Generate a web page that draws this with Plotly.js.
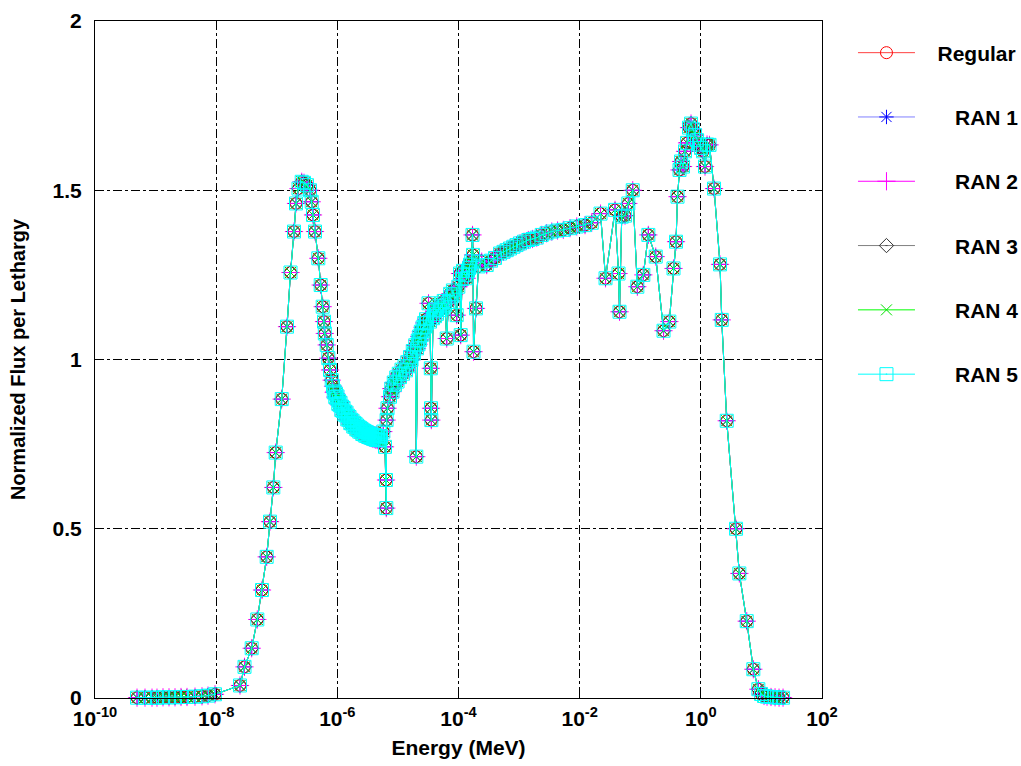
<!DOCTYPE html>
<html>
<head>
<meta charset="utf-8">
<script src="https://cdn.plot.ly/plotly-3.0.1.min.js"></script>
<style>html,body{margin:0;padding:0;background:#fff}</style>
</head>
<body>
<div id="chart" style="width:1021px;height:766px"></div>
<script>
// Group energies (MeV), lowest to highest
const energy = [
  4.94e-10, 6.69e-10, 8.73e-10, 1.055e-9, 1.326e-9, 1.666e-9, 2.092e-9, 2.628e-9, 3.301e-9, 4.475e-9,
  5.838e-9, 7.332e-9, 9.568e-9,
  2.475e-8, 2.936e-8, 3.860e-8, 4.777e-8, 5.711e-8, 6.826e-8, 7.742e-8, 8.774e-8, 9.612e-8, 1.208e-7,
  1.477e-7, 1.687e-7, 1.927e-7, 2.079e-7, 2.287e-7, 2.582e-7, 2.818e-7, 3.158e-7, 3.540e-7, 3.776e-7,
  3.968e-7, 4.281e-7, 4.853e-7, 5.316e-7, 5.737e-7, 6.028e-7, 6.214e-7, 6.679e-7, 7.097e-7, 7.572e-7,
  8.076e-7,
  // fine groups through the 1/E slowing-down region
  8.486e-7, 8.731e-7, 8.984e-7, 9.244e-7, 9.511e-7, 9.786e-7, 1.007e-6, 1.036e-6, 1.066e-6, 1.097e-6,
  1.128e-6, 1.161e-6, 1.195e-6, 1.229e-6, 1.265e-6, 1.301e-6, 1.339e-6, 1.378e-6, 1.418e-6, 1.459e-6,
  1.501e-6, 1.544e-6, 1.589e-6, 1.635e-6, 1.682e-6, 1.731e-6, 1.781e-6, 1.832e-6, 1.885e-6, 1.940e-6,
  1.996e-6, 2.054e-6, 2.113e-6, 2.174e-6, 2.237e-6, 2.302e-6, 2.368e-6, 2.437e-6, 2.507e-6, 2.580e-6,
  2.654e-6, 2.731e-6, 2.810e-6, 2.891e-6, 2.975e-6, 3.061e-6, 3.149e-6, 3.240e-6, 3.334e-6, 3.430e-6,
  3.529e-6, 3.632e-6, 3.736e-6, 3.845e-6, 3.956e-6, 4.070e-6, 4.188e-6, 4.309e-6, 4.433e-6, 4.562e-6,
  4.694e-6, 4.829e-6, 4.969e-6, 5.113e-6, 5.260e-6,
  // resolved resonance region
  5.741e-6, 6.124e-6, 6.361e-6, 6.434e-6, 6.508e-6, 6.735e-6, 7.404e-6, 7.766e-6, 8.145e-6, 8.538e-6,
  8.959e-6, 9.391e-6, 9.849e-6, 1.033e-5, 1.083e-5, 1.147e-5, 1.214e-5, 1.285e-5, 1.360e-5, 1.427e-5,
  1.496e-5, 1.584e-5, 1.677e-5, 1.758e-5, 1.845e-5, 1.930e-5, 2.012e-5, 2.067e-5, 2.127e-5, 2.188e-5,
  2.251e-5, 2.317e-5, 2.392e-5, 2.471e-5, 2.557e-5, 2.647e-5, 2.722e-5, 2.802e-5, 2.910e-5, 3.022e-5,
  3.200e-5, 3.388e-5, 3.493e-5, 3.519e-5, 3.560e-5, 3.797e-5, 3.944e-5, 4.097e-5, 4.255e-5, 4.420e-5,
  4.679e-5, 4.955e-5, 5.195e-5, 5.448e-5, 5.713e-5, 5.990e-5, 6.391e-5, 6.844e-5, 7.270e-5, 7.730e-5,
  8.089e-5, 8.437e-5, 9.350e-5, 9.933e-5, 1.060e-4, 1.088e-4, 1.143e-4, 1.188e-4, 1.281e-4, 1.367e-4,
  1.436e-4, 1.492e-4, 1.549e-4, 1.628e-4, 1.704e-4, 1.737e-4, 1.770e-4, 1.947e-4, 2.141e-4, 2.417e-4,
  // epithermal plateau and fast range
  2.924e-4, 3.443e-4, 4.009e-4, 4.849e-4, 5.537e-4, 6.252e-4, 7.089e-4, 8.035e-4, 9.077e-4, 1.037e-3,
  1.206e-3, 1.421e-3, 1.667e-3, 1.955e-3, 2.365e-3, 2.838e-3, 3.457e-3, 4.312e-3, 5.375e-3, 6.934e-3,
  8.944e-3, 1.226e-2, 1.582e-2, 2.210e-2, 2.673e-2, 3.835e-2, 4.380e-2, 4.550e-2, 4.947e-2, 5.610e-2,
  6.357e-2, 7.515e-2, 8.950e-2, 0.1124, 0.1360, 0.1801, 0.2423, 0.3020, 0.3543, 0.3896,
  0.4125, 0.4451, 0.4712, 0.5083, 0.5484, 0.5919, 0.6386, 0.6890, 0.7433, 0.8022,
  0.8656, 0.9340, 1.008, 1.087, 1.173, 1.266, 1.392, 1.652, 2.075, 2.214,
  2.677, 3.812, 4.321, 5.724, 7.358, 8.897, 9.858, 11.05, 12.38, 14.41,
  16.79, 19.54, 22.76
];

// Normalized flux per lethargy in each group (all runs agree to plotting precision)
const flux = [
  0.001, 0.001, 0.001, 0.001, 0.002, 0.002, 0.002, 0.003, 0.003, 0.004,
  0.005, 0.007, 0.011,
  0.037, 0.092, 0.147, 0.232, 0.319, 0.417, 0.521, 0.622, 0.725, 0.883,
  1.097, 1.257, 1.378, 1.461, 1.505, 1.525, 1.522, 1.515, 1.500, 1.466,
  1.427, 1.378, 1.299, 1.220, 1.156, 1.112, 1.077, 1.043, 1.004, 0.969,
  0.939,
  0.921, 0.903, 0.906, 0.889, 0.899, 0.885, 0.891, 0.869, 0.878, 0.865,
  0.872, 0.851, 0.861, 0.848, 0.857, 0.838, 0.846, 0.835, 0.843, 0.823,
  0.834, 0.822, 0.830, 0.812, 0.822, 0.811, 0.819, 0.802, 0.813, 0.801,
  0.810, 0.794, 0.805, 0.792, 0.801, 0.787, 0.798, 0.786, 0.795, 0.780,
  0.791, 0.779, 0.789, 0.775, 0.786, 0.774, 0.784, 0.771, 0.782, 0.770,
  0.780, 0.768, 0.778, 0.766, 0.777, 0.765, 0.776, 0.763, 0.775, 0.762,
  0.774, 0.762, 0.773, 0.761, 0.772,
  0.787, 0.742, 0.644, 0.561, 0.821, 0.856, 0.890, 0.914, 0.905, 0.932,
  0.925, 0.947, 0.935, 0.958, 0.948, 0.970, 0.958, 0.980, 0.968, 0.992,
  0.980, 1.007, 0.999, 1.025, 1.018, 1.042, 0.713, 1.033, 1.056, 1.045,
  1.068, 1.058, 1.082, 1.072, 1.095, 1.085, 1.108, 1.097, 1.119, 1.107,
  1.166, 1.112, 0.974, 0.856, 0.821, 1.122, 1.142, 1.128, 1.148, 1.135,
  1.157, 1.146, 1.166, 1.153, 1.173, 1.160, 1.062, 1.170, 1.194, 1.186,
  1.204, 1.192, 1.131, 1.215, 1.254, 1.072, 1.238, 1.262, 1.250, 1.240,
  1.262, 1.270, 1.280, 1.290, 1.368, 1.309, 1.023, 1.151, 1.275, 1.289,
  1.279, 1.292, 1.300, 1.313, 1.318, 1.323, 1.328, 1.333, 1.338, 1.343,
  1.348, 1.353, 1.356, 1.360, 1.368, 1.373, 1.378, 1.381, 1.383, 1.388,
  1.393, 1.397, 1.404, 1.431, 1.240, 1.442, 1.254, 1.141, 1.422, 1.425,
  1.461, 1.500, 1.215, 1.250, 1.368, 1.304, 1.085, 1.112, 1.269, 1.348,
  1.481, 1.560, 1.585, 1.570, 1.615, 1.640, 1.685, 1.697, 1.680, 1.663,
  1.648, 1.635, 1.625, 1.615, 1.570, 1.635, 1.634, 1.505, 1.281, 1.117,
  0.819, 0.500, 0.368, 0.227, 0.085, 0.026, 0.012, 0.006, 0.004, 0.003,
  0.002, 0.001, 0.001
];

const seriesNames   = ['Regular', 'RAN 1', 'RAN 2', 'RAN 3', 'RAN 4', 'RAN 5'];
const lineColors    = ['#ff4040', '#8080ff', '#ff00ff', '#808080', '#00ff00', '#00ffff'];
const markerColors  = ['#ff0000', '#0000ff', '#ff00ff', '#303030', '#00e000', '#00ffff'];
const markerSymbols = ['circle-open', 'asterisk-open', 'cross-thin-open', 'diamond-open-dot', 'x-thin-open', 'square-open-dot'];
const markerSizes   = [12, 12, 13, 11, 11, 13];

const xTickVals = [1e-10, 1e-8, 1e-6, 1e-4, 1e-2, 1, 100];
const xTickText = ['10<sup>-10</sup>', '10<sup>-8</sup>', '10<sup>-6</sup>', '10<sup>-4</sup>',
                   '10<sup>-2</sup>', '10<sup>0</sup>', '10<sup>2</sup>'];
const yTickVals = [0, 0.5, 1, 1.5, 2];
const yTickText = ['0', '0.5', '1', '1.5', '2'];

const FONT = 'Liberation Sans, Arial, sans-serif';
const NBSP = '\u00a0';

// Legend labels sit right-aligned after a gap: pad each name on the left
const longest = Math.max(...seriesNames.map(n => n.length));
const traces = seriesNames.map((name, i) => ({
  type: 'scatter',
  mode: 'lines+markers',
  x: energy,
  y: flux,
  name: NBSP.repeat(3 + Math.round((longest - name.length) * 1.5)) + name,
  legendgroup: 'g' + i,
  cliponaxis: false,
  line: { color: lineColors[i], width: 1 },
  marker: { symbol: markerSymbols[i], size: markerSizes[i], color: markerColors[i],
            line: { color: markerColors[i], width: 1 } }
}));

const axisCommon = {
  tickmode: 'array',
  tickfont: { family: FONT, size: 21, weight: 'bold' },
  ticks: 'inside', ticklen: 6, tickcolor: '#000',
  showline: true, linecolor: '#000', linewidth: 1, mirror: 'allticks',
  showgrid: true, gridcolor: '#000', gridwidth: 1, griddash: 'dashdot',
  zeroline: false
};

const layout = {
  width: 1021,
  height: 766,
  // fixed plot frame; the legend lives in the right margin without resizing it
  margin: { l: 95, r: 199, t: 21, b: 68, autoexpand: false },
  paper_bgcolor: '#ffffff',
  plot_bgcolor: '#ffffff',
  font: { family: FONT, size: 21, color: '#000000', weight: 'bold' },
  xaxis: Object.assign({}, axisCommon, {
    type: 'log',
    range: [-10, 2],
    tickvals: xTickVals,
    ticktext: xTickText,
    ticklabelstandoff: 2,
    title: { text: 'Energy (MeV)', font: { family: FONT, size: 21, weight: 'bold' }, standoff: 11 }
  }),
  yaxis: Object.assign({}, axisCommon, {
    range: [0, 2],
    tickvals: yTickVals,
    ticktext: yTickText,
    ticklabelstandoff: 8,
    title: { text: 'Normalized Flux per Lethargy', font: { family: FONT, size: 20, weight: 'bold' }, standoff: 21 }
  }),
  showlegend: true,
  legend: {
    x: 1.0426, xanchor: 'left',
    y: 0.983, yanchor: 'top',
    bgcolor: 'rgba(0,0,0,0)',
    borderwidth: 0,
    itemwidth: 57,
    tracegroupgap: 34,
    font: { family: FONT, size: 21, weight: 'bold', color: '#000' },
    itemclick: false, itemdoubleclick: false
  }
};

Plotly.newPlot('chart', traces, layout, { displayModeBar: false, staticPlot: true });
</script>
</body>
</html>
